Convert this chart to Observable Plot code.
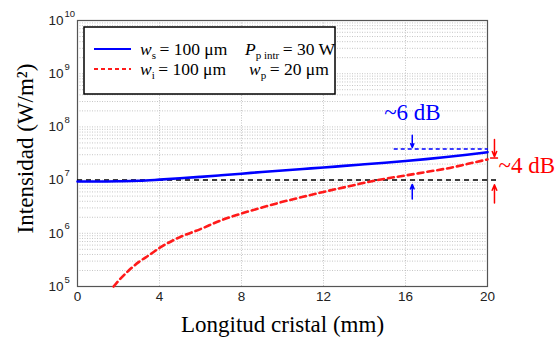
<!DOCTYPE html>
<html>
<head>
<meta charset="utf-8">
<script src="https://cdn.jsdelivr.net/npm/d3@7"></script>
<script src="https://cdn.jsdelivr.net/npm/@observablehq/plot@0.6"></script>
<style>
  html, body { margin: 0; padding: 0; background: #fff; }
  #chart { width: 558px; height: 338px; }
  .serif, .serif tspan { font-family: "Liberation Serif", "Times New Roman", serif !important; }
</style>
</head>
<body>
<div id="chart"></div>
<script>
// ---- data ----
const xTicks = [0, 4, 8, 12, 16, 20];
const yExponents = [5, 6, 7, 8, 9, 10];

const signalX = [0, 1, 2, 3, 4, 5, 6, 7, 8, 9, 10, 11, 12, 13, 14, 15, 16, 17, 18, 19, 20];
const signalY = [9.4e6, 9.4e6, 9.5e6, 9.7e6, 1.02e7, 1.08e7, 1.15e7, 1.23e7, 1.32e7, 1.42e7, 1.52e7,
                 1.62e7, 1.72e7, 1.85e7, 1.98e7, 2.12e7, 2.28e7, 2.48e7, 2.72e7, 3.0e7, 3.35e7];

const idlerX = [1.76, 2, 2.5, 3, 3.5, 4, 5, 6, 7, 8, 9, 10, 11, 12, 13, 14, 15, 16, 17, 18, 19, 20];
const idlerY = [1e5, 1.28e5, 2.0e5, 2.9e5, 3.9e5, 5.3e5, 8.5e5, 1.2e6, 1.75e6, 2.35e6, 3.05e6, 3.9e6,
                4.85e6, 6e6, 7.3e6, 8.9e6, 1.06e7, 1.22e7, 1.42e7, 1.65e7, 2.0e7, 2.45e7];

const refLevel = 1e7;          // black dashed reference
const signalEndLevel = 3.85e7; // blue dashed reference
const labels6dB = ["~6 dB"];
const labels4dB = ["~4 dB"];
const xTitle = "Longitud cristal (mm)";
const yTitle = "Intensidad (W/m²)";

// ---- derived tables ----
const signal = signalX.map((x, i) => ({x, y: signalY[i]}));
const idler = idlerX.map((x, i) => ({x, y: idlerY[i]}));
const gridY = [];
for (const e of yExponents.slice(0, -1)) for (let k = 1; k <= 9; k++) gridY.push(k * 10 ** e);
gridY.push(1e10);

const serif = "Liberation Serif";
const sans = "'Liberation Sans', Arial, sans-serif";

const chart = Plot.plot({
  width: 558,
  height: 338,
  marginLeft: 77,
  marginRight: 71,
  marginTop: 20,
  marginBottom: 52,
  style: {fontFamily: sans, background: "white", overflow: "visible"},
  x: {domain: [0, 20], axis: null},
  y: {type: "log", domain: [1e5, 1e10], axis: null},
  marks: [
    Plot.ruleY(gridY, {stroke: "#b8b8b8", strokeDasharray: "1,1.5", strokeWidth: 0.8}),
    Plot.ruleX(xTicks.slice(1, -1), {stroke: "#b8b8b8", strokeDasharray: "1,1.5", strokeWidth: 0.8}),
    Plot.frame({stroke: "#555", strokeWidth: 1.2}),
    // x tick labels
    Plot.axisX({ticks: xTicks, tickSize: 0, tickPadding: 5, fontSize: 13.5, label: null, fill: "#222"}),
    // y tick labels (10 with superscript exponent)
    Plot.text(yExponents, {x: 0, y: e => 10 ** e, text: () => "10", textAnchor: "end", dx: -14, fontSize: 13.5, fill: "#222"}),
    Plot.text(yExponents, {x: 0, y: e => 10 ** e, text: e => String(e), textAnchor: "start", dx: -13, dy: -7, fontSize: 9.5, fill: "#222"}),
    // reference dashed lines
    Plot.ruleY([refLevel], {x1: 0, x2: 20.54, stroke: "black", strokeDasharray: "5,4", strokeWidth: 1.5}),
    Plot.ruleY([signalEndLevel], {x1: 15.45, x2: 20.05, stroke: "#0000ff", strokeDasharray: "4,3", strokeWidth: 1.5}),
    // curves
    Plot.line(idler, {x: "x", y: "y", stroke: "#ff1a1a", strokeWidth: 2.6, strokeDasharray: "6,4", curve: "monotone-x"}),
    Plot.line(signal, {x: "x", y: "y", stroke: "#0000ff", strokeWidth: 2.6, curve: "monotone-x"}),
    // arrows
    Plot.arrow([{x: 16.33, y1: 7e7, y2: 4.1e7}, {x: 16.33, y1: 4.4e6, y2: 8.3e6}],
      {x1: "x", x2: "x", y1: "y1", y2: "y2", stroke: "#0000ff", strokeWidth: 1.5, headLength: 6, headAngle: 45}),
    Plot.arrow([{x: 20.34, y1: 5.8e7, y2: 2.75e7}, {x: 20.34, y1: 3.7e6, y2: 8.2e6}],
      {x1: "x", x2: "x", y1: "y1", y2: "y2", stroke: "#ff0000", strokeWidth: 1.5, headLength: 6, headAngle: 45}),
    Plot.ruleY([2.6e7], {x1: 20.15, x2: 20.54, stroke: "#ff0000", strokeWidth: 1.5}),
    // annotations
    Plot.text(labels6dB, {x: 14.96, y: 1.87e8, text: d => d, textAnchor: "start", fontFamily: serif, fontSize: 23, fill: "#0000ff"}),
    Plot.text(labels4dB, {x: 20.54, y: 1.9e7, text: d => d, textAnchor: "start", fontFamily: serif, fontSize: 23, fill: "#ff0000"}),
    // titles
    Plot.text([xTitle], {frameAnchor: "bottom", dy: 45, lineAnchor: "bottom", text: d => d, fontFamily: serif, fontSize: 23, fill: "black"}),
    Plot.text([yTitle], {frameAnchor: "left", textAnchor: "middle", dx: -45, dy: -5, rotate: -90, lineAnchor: "bottom", text: d => d, fontFamily: serif, fontSize: 23, fill: "black"})
  ]
});
document.getElementById("chart").appendChild(chart);

// ---- legend box inside the plot area ----
const svg = d3.select(chart);
const lg = svg.append("g").attr("text-anchor", "start");
lg.append("rect").attr("x", 84).attr("y", 27).attr("width", 251).attr("height", 67)
  .attr("fill", "white").attr("stroke", "black").attr("stroke-width", 1.5);
lg.append("line").attr("x1", 94).attr("x2", 131).attr("y1", 49).attr("y2", 49)
  .attr("stroke", "#0000ff").attr("stroke-width", 1.8);
lg.append("line").attr("x1", 94).attr("x2", 131).attr("y1", 69).attr("y2", 69)
  .attr("stroke", "#ff1a1a").attr("stroke-width", 1.8).attr("stroke-dasharray", "4,3");

function legendText(x, y, parts) {
  const t = lg.append("text").attr("class", "serif").attr("x", x).attr("y", y).attr("text-anchor", "start")
    .style("font-size", "17.5px").attr("fill", "black");
  for (const p of parts) {
    const s = t.append("tspan").text(p.t);
    if (p.i) s.style("font-style", "italic");
    if (p.sub) s.style("font-size", "11px").attr("dy", 4);
    if (p.up) s.attr("dy", -4);
  }
}
legendText(140, 55, [{t: "w", i: true}, {t: "s", sub: true}, {t: "\u2009= 100 μm", up: true}]);
legendText(140, 75, [{t: "w", i: true}, {t: "i", sub: true}, {t: "\u2009= 100 μm", up: true}]);
legendText(245, 55, [{t: "P", i: true}, {t: "p intr", sub: true}, {t: "\u2009= 30 W", up: true}]);
legendText(249, 75, [{t: "w", i: true}, {t: "p", sub: true}, {t: "\u2009= 20 μm", up: true}]);
</script>
</body>
</html>
